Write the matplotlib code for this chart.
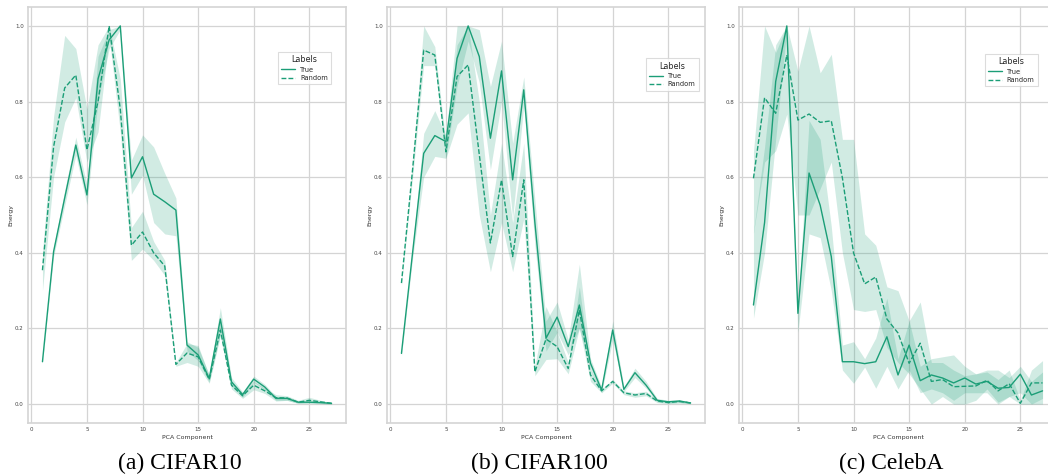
import numpy as np
import matplotlib
matplotlib.use("Agg")
import matplotlib.pyplot as plt
import seaborn as sns

# PCA components on the x axis
comp = list(range(1, 28))

# CIFAR10
c10_true = [0.112, 0.403, 0.545, 0.685, 0.553, 0.86, 0.963, 1.0, 0.598, 0.654, 0.555, 0.535, 0.513, 0.156,
            0.13, 0.068, 0.225, 0.059, 0.025, 0.066, 0.045, 0.015, 0.015, 0.005, 0.005, 0.004, 0.002]
c10_true_lo = [0.108, 0.39, 0.525, 0.658, 0.527, 0.80, 0.94, 0.99, 0.555, 0.605, 0.48, 0.45, 0.445, 0.14,
               0.115, 0.058, 0.185, 0.048, 0.018, 0.058, 0.038, 0.01, 0.01, 0.002, 0.002, 0.001, 0.0]
c10_true_hi = [0.116, 0.415, 0.565, 0.706, 0.58, 0.92, 0.99, 1.0, 0.645, 0.712, 0.68, 0.61, 0.545, 0.165,
               0.15, 0.078, 0.255, 0.07, 0.032, 0.074, 0.052, 0.02, 0.02, 0.008, 0.008, 0.007, 0.004]
c10_rand = [0.354, 0.68, 0.836, 0.870, 0.672, 0.80, 1.0, 0.78, 0.42, 0.455, 0.40, 0.365, 0.105, 0.135,
            0.125, 0.065, 0.196, 0.05, 0.022, 0.05, 0.035, 0.017, 0.016, 0.005, 0.01, 0.006, 0.002]
c10_rand_lo = [0.30, 0.60, 0.746, 0.81, 0.64, 0.72, 0.97, 0.72, 0.38, 0.41, 0.38, 0.34, 0.10, 0.11,
               0.10, 0.055, 0.18, 0.04, 0.015, 0.038, 0.028, 0.008, 0.01, 0.002, 0.004, 0.002, 0.0]
c10_rand_hi = [0.40, 0.76, 0.975, 0.94, 0.78, 0.95, 1.0, 0.86, 0.467, 0.51, 0.43, 0.38, 0.11, 0.16,
               0.155, 0.075, 0.22, 0.06, 0.03, 0.06, 0.042, 0.025, 0.022, 0.01, 0.018, 0.01, 0.004]

# CIFAR100
c100_true = [0.134, 0.40, 0.663, 0.71, 0.694, 0.914, 1.0, 0.919, 0.703, 0.881, 0.593, 0.831, 0.48, 0.174,
             0.23, 0.152, 0.262, 0.108, 0.037, 0.196, 0.039, 0.083, 0.05, 0.01, 0.006, 0.008, 0.003]
c100_true_lo = [0.128, 0.385, 0.60, 0.655, 0.65, 0.84, 0.96, 0.85, 0.62, 0.80, 0.49, 0.79, 0.42, 0.14,
                0.19, 0.13, 0.20, 0.09, 0.03, 0.17, 0.033, 0.07, 0.042, 0.006, 0.003, 0.004, 0.001]
c100_true_hi = [0.14, 0.415, 0.716, 0.776, 0.71, 1.0, 1.0, 0.99, 0.84, 0.96, 0.69, 0.865, 0.54, 0.22,
                0.27, 0.17, 0.37, 0.12, 0.045, 0.22, 0.046, 0.095, 0.06, 0.015, 0.01, 0.012, 0.006]
c100_rand = [0.32, 0.62, 0.936, 0.923, 0.667, 0.866, 0.897, 0.66, 0.426, 0.593, 0.39, 0.593, 0.085, 0.172,
             0.152, 0.094, 0.249, 0.077, 0.035, 0.06, 0.03, 0.024, 0.028, 0.008, 0.004, 0.007, 0.003]
c100_rand_lo = [0.315, 0.60, 0.895, 0.895, 0.65, 0.74, 0.77, 0.50, 0.35, 0.48, 0.35, 0.49, 0.075, 0.118,
                0.12, 0.08, 0.20, 0.06, 0.03, 0.055, 0.025, 0.018, 0.022, 0.004, 0.001, 0.003, 0.001]
c100_rand_hi = [0.325, 0.64, 1.0, 0.945, 0.69, 0.95, 1.0, 0.80, 0.50, 0.69, 0.48, 0.69, 0.10, 0.258,
                0.19, 0.11, 0.31, 0.09, 0.04, 0.065, 0.035, 0.03, 0.034, 0.012, 0.007, 0.011, 0.005]

# CelebA
celeba_true = [0.262, 0.48, 0.853, 1.0, 0.24, 0.611, 0.526, 0.39, 0.112, 0.112, 0.107, 0.112, 0.178, 0.077,
               0.156, 0.062, 0.077, 0.069, 0.056, 0.069, 0.053, 0.06, 0.042, 0.044, 0.079, 0.024, 0.035]
celeba_true_lo = [0.227, 0.40, 0.70, 0.99, 0.19, 0.45, 0.44, 0.30, 0.09, 0.055, 0.098, 0.042, 0.10, 0.04,
                  0.09, 0.03, 0.04, 0.03, 0.01, 0.03, 0.03, 0.03, 0.0, 0.02, 0.03, 0.0, 0.015]
celeba_true_hi = [0.456, 0.68, 0.95, 1.0, 0.25, 0.75, 0.70, 0.47, 0.156, 0.165, 0.12, 0.175, 0.28, 0.12,
                  0.22, 0.10, 0.12, 0.125, 0.13, 0.10, 0.08, 0.09, 0.09, 0.07, 0.10, 0.06, 0.085]
celeba_rand = [0.597, 0.81, 0.769, 0.923, 0.751, 0.767, 0.745, 0.749, 0.598, 0.40, 0.318, 0.336, 0.225, 0.188,
               0.108, 0.161, 0.06, 0.065, 0.046, 0.047, 0.048, 0.063, 0.035, 0.054, 0.002, 0.056, 0.056]
celeba_rand_lo = [0.452, 0.64, 0.67, 0.767, 0.50, 0.50, 0.57, 0.64, 0.40, 0.25, 0.245, 0.25, 0.15, 0.11,
                  0.08, 0.04, 0.0, 0.02, 0.0, 0.0, 0.01, 0.04, 0.005, 0.02, 0.0, 0.0, 0.0]
celeba_rand_hi = [0.667, 1.0, 0.93, 1.0, 0.88, 1.0, 0.876, 0.925, 0.70, 0.70, 0.45, 0.42, 0.31, 0.30,
                  0.22, 0.27, 0.11, 0.11, 0.09, 0.075, 0.08, 0.085, 0.065, 0.09, 0.01, 0.09, 0.115]

captions = ["(a) CIFAR10", "(b) CIFAR100", "(c) CelebA"]
legend_labels = ["True", "Random"]

panels = [
  (c10_true, c10_true_lo, c10_true_hi, c10_rand, c10_rand_lo, c10_rand_hi),
  (c100_true, c100_true_lo, c100_true_hi, c100_rand, c100_rand_lo, c100_rand_hi),
  (celeba_true, celeba_true_lo, celeba_true_hi, celeba_rand, celeba_rand_lo, celeba_rand_hi),
]

sns.set_style("whitegrid")
plt.rcParams["font.family"] = ["DejaVu Sans"]
color = sns.color_palette("Dark2")[0]
grid_c = "#d4d4d4"

fig = plt.figure(figsize=(10.48, 4.74), dpi=100)
lefts = [28, 387, 739]
leg_anchor = [(0.953, 0.892), (0.981, 0.877), (0.940, 0.887)]
cap_x = [180, 539, 891]

for i, (tm, tlo, thi, rm, rlo, rhi) in enumerate(panels):
  ax = fig.add_axes([lefts[i] / 1048, 51 / 474, 318 / 1048, 416 / 474])
  ax.fill_between(comp, tlo, thi, color=color, alpha=0.2, lw=0)
  ax.fill_between(comp, rlo, rhi, color=color, alpha=0.2, lw=0)
  ax.plot(comp, tm, color=color, lw=1.0, label=legend_labels[0])
  ax.plot(comp, rm, color=color, lw=1.0, dashes=(3.5, 1.5), label=legend_labels[1])
  ax.set_xlim(-0.3, 28.3); ax.set_ylim(-0.05, 1.05)
  ax.set_xticks([0, 5, 10, 15, 20, 25]); ax.set_yticks([0.0, 0.2, 0.4, 0.6, 0.8, 1.0])
  ax.tick_params(labelsize=4, pad=3, colors="#444444", length=0)
  ax.grid(True, color=grid_c, lw=0.9)
  for s in ax.spines.values():
    s.set_color(grid_c); s.set_linewidth(1.2)
  ax.set_xlabel("PCA Component", fontsize=4.5, labelpad=2, color="#333333")
  ax.set_ylabel("Energy", fontsize=4.5, labelpad=1.5, color="#333333")
  leg = ax.legend(title="Labels", loc="upper right", bbox_to_anchor=leg_anchor[i], borderaxespad=0,
                  fontsize=4.8, title_fontsize=5.8, handlelength=2.0, frameon=True, fancybox=False,
                  borderpad=0.5, labelspacing=0.35)
  leg.get_frame().set_edgecolor(grid_c); leg.get_frame().set_linewidth(0.8)
  fig.text(cap_x[i] / 1048, 11 / 474, captions[i], ha="center", va="center",
           fontsize=17, family="Liberation Serif", color="black")

fig.savefig("out.png", dpi=100, facecolor="white")
